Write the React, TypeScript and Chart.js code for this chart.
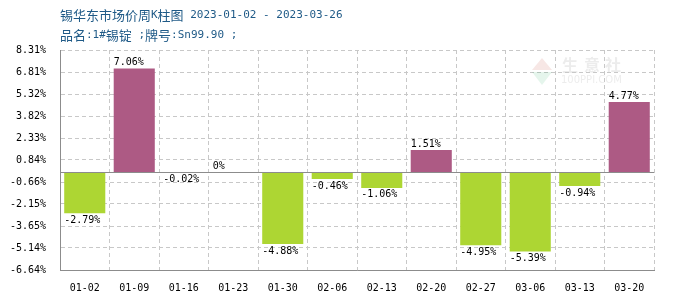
import React, { useEffect, useRef } from "react";
import { Chart, registerables } from "chart.js";

Chart.register(...registerables);

const categories = ["01-02", "01-09", "01-16", "01-23", "01-30", "02-06", "02-13", "02-20", "02-27", "03-06", "03-13", "03-20"];
const changes = [-2.79, 7.06, -0.02, 0, -4.88, -0.46, -1.06, 1.51, -4.95, -5.39, -0.94, 4.77];
const yTicks = [8.31, 6.81, 5.32, 3.82, 2.33, 0.84, -0.66, -2.15, -3.65, -5.14, -6.64];
const titleLine1 = "锡华东市场价周K柱图 2023-01-02 - 2023-03-26";
const titleLine2 = "品名:1#锡锭 ;牌号:Sn99.90 ;";
const UP_COLOR = "#ad5a84";
const DOWN_COLOR = "#add633";
const MONO = "'DejaVu Sans Mono', 'Liberation Mono', monospace";

function drawRuns(ctx: CanvasRenderingContext2D, text: string, x: number, y: number) {
  for (const ch of text) {
    const cjk = /[\u3000-\u9fff\uff00-\uffef]/.test(ch);
    ctx.font = cjk ? "13px 'Noto Sans CJK SC'" : `11px ${MONO}`;
    ctx.fillText(ch, x, y);
    x += ctx.measureText(ch).width;
  }
}

const decor = {
  id: "decor",
  beforeDatasetsDraw(chart: any) {
    const ctx: CanvasRenderingContext2D = chart.ctx;
    ctx.save();
    // faint watermark
    ctx.globalAlpha = 0.12;
    ctx.fillStyle = "#c0392b";
    ctx.beginPath();
    ctx.moveTo(542, 58); ctx.lineTo(552, 70); ctx.lineTo(532, 70); ctx.closePath(); ctx.fill();
    ctx.fillStyle = "#27ae60";
    ctx.beginPath();
    ctx.moveTo(532, 72); ctx.lineTo(552, 72); ctx.lineTo(542, 85); ctx.closePath(); ctx.fill();
    ctx.globalAlpha = 1;
    ctx.fillStyle = "rgba(200,200,200,0.35)";
    ctx.textBaseline = "middle";
    ctx.textAlign = "left";
    ctx.font = "bold 16px 'Noto Sans CJK SC'";
    ctx.fillText("生", 562, 65);
    ctx.fillText("意", 584, 65);
    ctx.fillText("社", 605, 65);
    ctx.font = "10px 'DejaVu Sans'";
    ctx.fillText("100PPI.COM", 561, 80);
    ctx.restore();
  },
  afterDatasetsDraw(chart: any) {
    const ctx: CanvasRenderingContext2D = chart.ctx;
    const { chartArea, scales } = chart;
    const y0 = Math.round(scales.y.getPixelForValue(0)) + 0.5;
    ctx.save();
    ctx.strokeStyle = "#8c8c8c";
    ctx.lineWidth = 1;
    ctx.setLineDash([]);
    ctx.beginPath();
    ctx.moveTo(chartArea.left, y0);
    ctx.lineTo(chartArea.right, y0);
    ctx.stroke();

    const meta = chart.getDatasetMeta(0);
    ctx.font = `10px ${MONO}`;
    ctx.fillStyle = "#000";
    ctx.textAlign = "left";
    meta.data.forEach((bar: any, i: number) => {
      const v = changes[i];
      const p = bar.getProps(["x", "y", "width", "base"], true);
      const left = p.x - p.width / 2;
      const txt = v === 0 ? "0%" : v.toFixed(2) + "%";
      if (v >= 0) {
        ctx.textBaseline = "bottom";
        ctx.fillText(txt, left, Math.min(p.y, p.base) - 1);
      } else {
        ctx.textBaseline = "top";
        ctx.fillText(txt, left, Math.max(p.y, p.base) + 2);
      }
    });
    ctx.restore();
  },
  afterDraw(chart: any) {
    const ctx: CanvasRenderingContext2D = chart.ctx;
    ctx.save();
    ctx.fillStyle = "#1f5a87";
    ctx.textBaseline = "middle";
    ctx.textAlign = "left";
    drawRuns(ctx, titleLine1, 60, 15);
    drawRuns(ctx, titleLine2, 60, 35);
    ctx.restore();
  },
};

export default function App() {
  const ref = useRef<HTMLCanvasElement | null>(null);
  useEffect(() => {
    if (!ref.current) return;
    const chart = new Chart(ref.current, {
      type: "bar",
      data: {
        labels: categories,
        datasets: [
          {
            data: changes,
            backgroundColor: changes.map((v) => (v >= 0 ? UP_COLOR : DOWN_COLOR)),
            borderWidth: 0,
            categoryPercentage: 1,
            barPercentage: 0.83,
          },
        ],
      },
      options: {
        animation: false,
        responsive: false,
        maintainAspectRatio: false,
        layout: { padding: { left: 0, top: 50, right: 46, bottom: 0 } },
        plugins: { legend: { display: false }, tooltip: { enabled: false }, title: { display: false } },
        scales: {
          x: {
            grid: { color: "#c8c8c8", drawTicks: false, offset: true },
            border: { display: true, color: "#8c8c8c", dash: [4, 3] },
            ticks: { font: { family: MONO, size: 10 }, color: "#000", padding: 12, maxRotation: 0, autoSkip: false },
            afterFit: (s: any) => { s.height = 30; },
          },
          y: {
            min: -6.64,
            max: 8.31,
            afterBuildTicks: (s: any) => { s.ticks = yTicks.map((v) => ({ value: v })); },
            grid: { color: "#c8c8c8", drawTicks: false },
            border: { display: true, color: "#8c8c8c", dash: [4, 3] },
            ticks: {
              font: { family: MONO, size: 10 },
              color: "#000",
              padding: 14,
              autoSkip: false,
              callback: (v: any) => Number(v).toFixed(2) + "%",
            },
            afterFit: (s: any) => { s.width = 60; },
          },
        },
      },
      plugins: [decor],
    });
    return () => chart.destroy();
  }, []);
  return (
    <div style={{ position: "absolute", left: 0, top: 0, width: 700, height: 300, background: "#fff" }}>
      <canvas ref={ref} width={700} height={300} />
    </div>
  );
}
